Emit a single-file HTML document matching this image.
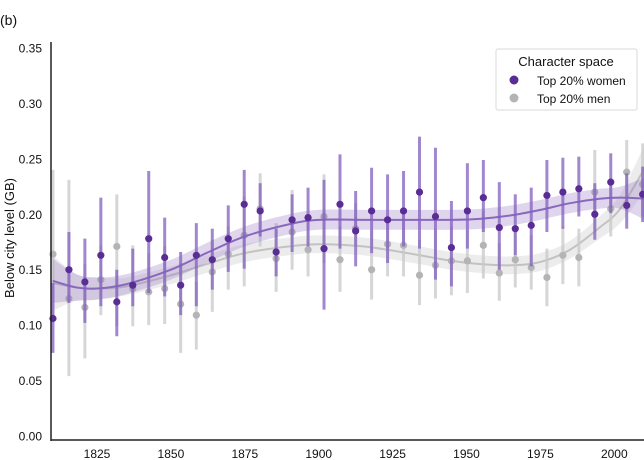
<!DOCTYPE html>
<html><head><meta charset="utf-8"><style>
html,body{margin:0;padding:0;background:#fff}
svg{display:block;font-family:"Liberation Sans",Arial,sans-serif}
</style></head><body>
<svg id="chart" width="644" height="460" viewBox="0 0 644 460">
<text x="0" y="25" font-size="14" fill="#111">(b)</text>
<g id="plot"></g>
<g id="axes"></g>
<g>
<rect x="496" y="49" width="141" height="61" rx="2" fill="#fff" stroke="#d8d8d8"/>
<text x="566" y="66" font-size="13" text-anchor="middle" fill="#111">Character space</text>
<circle cx="514" cy="80" r="4.5" fill="#5a2d95"/>
<text x="537" y="85" font-size="12" fill="#111">Top 20% women</text>
<circle cx="514" cy="98" r="4.5" fill="#b4b4b8"/>
<text x="537" y="103" font-size="12" fill="#111">Top 20% men</text>
</g>
</svg>
<script>
const years=[1810.1,1815.5,1820.9,1826.3,1831.7,1837.1,1842.5,1847.9,1853.3,1858.6,1864.0,1869.4,1874.8,1880.2,1885.6,1891.0,1896.4,1901.8,1907.2,1912.5,1917.9,1923.3,1928.7,1934.1,1939.5,1944.9,1950.3,1955.7,1961.1,1966.5,1971.9,1977.2,1982.6,1988.0,1993.4,1998.8,2004.2,2009.6];
const womenVal=[0.106,0.150,0.139,0.163,0.121,0.136,0.178,0.161,0.136,0.163,0.159,0.178,0.209,0.203,0.166,0.195,0.197,0.169,0.209,0.185,0.203,0.195,0.203,0.220,0.198,0.170,0.203,0.215,0.188,0.187,0.190,0.217,0.220,0.223,0.200,0.229,0.208,0.218];
const womenLo=[0.075,0.120,0.102,0.117,0.090,0.117,0.129,0.126,0.109,0.117,0.132,0.148,0.151,0.180,0.144,0.166,0.171,0.114,0.169,0.153,0.165,0.156,0.171,0.169,0.141,0.135,0.169,0.184,0.150,0.163,0.153,0.184,0.187,0.198,0.177,0.201,0.187,0.193];
const womenHi=[0.138,0.184,0.178,0.215,0.150,0.169,0.239,0.197,0.166,0.192,0.187,0.208,0.240,0.228,0.187,0.218,0.224,0.231,0.254,0.221,0.242,0.236,0.239,0.270,0.260,0.212,0.246,0.249,0.229,0.218,0.224,0.249,0.251,0.252,0.228,0.255,0.237,0.243];
const menVal=[0.164,0.124,0.116,0.141,0.171,0.133,0.130,0.133,0.119,0.109,0.148,0.164,0.181,0.205,0.160,0.184,0.168,0.198,0.159,0.187,0.150,0.173,0.172,0.145,0.154,0.158,0.158,0.172,0.147,0.159,0.152,0.143,0.163,0.161,0.220,0.205,0.238,0.227];
const menLo=[0.107,0.054,0.070,0.109,0.099,0.099,0.100,0.101,0.075,0.078,0.112,0.132,0.135,0.171,0.130,0.150,0.144,0.156,0.130,0.171,0.123,0.144,0.144,0.118,0.124,0.127,0.129,0.142,0.122,0.134,0.132,0.117,0.137,0.135,0.186,0.180,0.204,0.198];
const menHi=[0.240,0.231,0.155,0.172,0.218,0.172,0.165,0.171,0.156,0.139,0.177,0.189,0.216,0.237,0.192,0.222,0.194,0.236,0.189,0.210,0.186,0.198,0.203,0.177,0.186,0.189,0.186,0.203,0.174,0.186,0.181,0.169,0.189,0.187,0.258,0.231,0.267,0.264];
const fitYears=[1810,1818,1825,1835,1850,1862,1875,1890,1900,1915,1930,1945,1955,1965,1975,1985,1995,2002,2011];
const womenFit=[0.140,0.134,0.133,0.137,0.150,0.165,0.180,0.191,0.195,0.195,0.195,0.195,0.196,0.199,0.204,0.210,0.214,0.215,0.214];
const womenBand=[0.020,0.012,0.010,0.009,0.009,0.009,0.009,0.009,0.009,0.009,0.009,0.009,0.009,0.009,0.009,0.009,0.009,0.010,0.020];
const menFit=[0.138,0.134,0.133,0.135,0.145,0.155,0.165,0.171,0.173,0.171,0.165,0.158,0.155,0.154,0.157,0.168,0.188,0.205,0.245];
const menBand=[0.025,0.012,0.010,0.008,0.008,0.008,0.008,0.008,0.008,0.008,0.008,0.008,0.008,0.008,0.008,0.008,0.010,0.013,0.022];
const yTicks=[0,0.05,0.10,0.15,0.20,0.25,0.30,0.35];
const xTicks=[1825,1850,1875,1900,1925,1950,1975,2000];

const NS="http://www.w3.org/2000/svg";
const X0=51,X1=644,Y0=440;
function xs(y){return 97+(y-1825)*2.956;}
function ys(v){return 436-v*1108.6;}
function mk(tag,attrs,parent){const e=document.createElementNS(NS,tag);for(const k in attrs)e.setAttribute(k,attrs[k]);parent.appendChild(e);return e;}
const plot=document.getElementById('plot'),axes=document.getElementById('axes');
function smooth(pts){let d="M"+pts[0][0]+","+pts[0][1];for(let i=0;i<pts.length-1;i++){const p0=pts[Math.max(0,i-1)],p1=pts[i],p2=pts[i+1],p3=pts[Math.min(pts.length-1,i+2)];const c1=[p1[0]+(p2[0]-p0[0])/6,p1[1]+(p2[1]-p0[1])/6],c2=[p2[0]-(p3[0]-p1[0])/6,p2[1]-(p3[1]-p1[1])/6];d+=" C"+c1+" "+c2+" "+p2;}return d;}
function fit(vals,band,fillC,lineC,name){
  const up=fitYears.map((y,i)=>[xs(y),ys(vals[i]+band[i])]);
  const lo=fitYears.map((y,i)=>[xs(y),ys(vals[i]-band[i])]).reverse();
  const b=mk('path',{d:smooth(up)+" L"+lo[0]+" "+smooth(lo).slice(1)+" Z",fill:fillC},plot);
  
  
  const l=mk('path',{d:smooth(fitYears.map((y,i)=>[xs(y),ys(vals[i])])),fill:'none',stroke:lineC,'stroke-width':2},plot);
  
  
}
function pts(vals,lo,hi,barC,dotC,name){
  years.forEach((y,i)=>{
    const x=xs(y);
    const ln=mk('line',{x1:x,x2:x,y1:ys(lo[i]),y2:ys(hi[i]),stroke:barC,'stroke-width':3},plot);
    
    
  });
  years.forEach((y,i)=>{
    const c=mk('circle',{cx:xs(y),cy:ys(vals[i]),r:3.6,fill:dotC},plot);
    
    
  });
}
fit(menFit,menBand,'rgba(200,200,200,0.35)','rgba(190,190,190,0.9)','men');
pts(menVal,menLo,menHi,'rgba(200,200,200,0.75)','#b4b4b8','men');
fit(womenFit,womenBand,'rgba(150,120,200,0.30)','#8a68bd','women');
pts(womenVal,womenLo,womenHi,'rgba(130,95,190,0.75)','#5a2d95','women');
const ya=mk('line',{x1:X0,x2:X0,y1:42,y2:Y0+1,stroke:'#222','stroke-width':1.5},axes);


const xa=mk('line',{x1:X0,x2:X1,y1:Y0,y2:Y0,stroke:'#222','stroke-width':1.5},axes);


yTicks.forEach(v=>{const t=mk('text',{x:42,y:ys(v)+4.5,'font-size':12,'text-anchor':'end',fill:'#111'},axes);t.textContent=v.toFixed(2);

});
xTicks.forEach(v=>{const t=mk('text',{x:xs(v),y:458,'font-size':12,'text-anchor':'middle',fill:'#111'},axes);t.textContent=v;

});
const yt=mk('text',{x:0,y:0,'font-size':13,'text-anchor':'middle',fill:'#111',transform:'translate(14,238) rotate(-90)'},axes);
yt.textContent='Below city level (GB)';


</script>
</body></html>
